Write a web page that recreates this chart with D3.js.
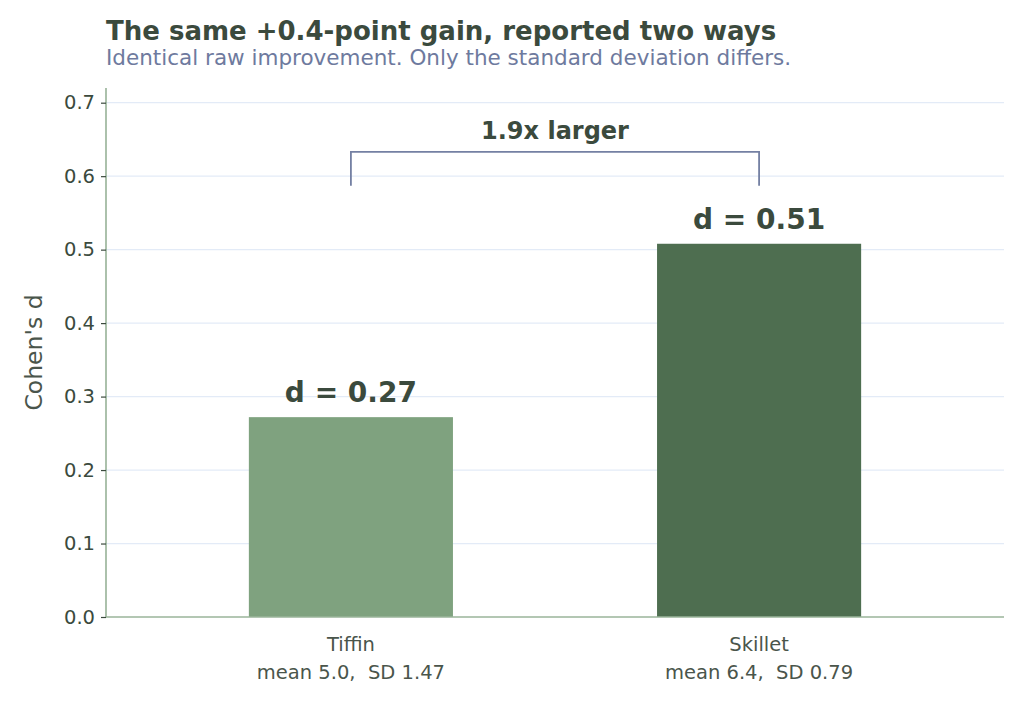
<!DOCTYPE html>
<html>
<head>
<meta charset="utf-8">
<script src="https://cdn.jsdelivr.net/npm/d3@7"></script>
<style>
  body { margin: 0; background: #fff; }
  text { font-family: "DejaVu Sans", sans-serif; white-space: pre; }
</style>
</head>
<body>
<svg id="chart" width="1024" height="728"></svg>
<script>
const categories = ["Tiffin", "Skillet"];
const subLabels = ["mean 5.0,  SD 1.47", "mean 6.4,  SD 0.79"];
const cohensD = [0.272, 0.508];
const barLabels = ["d = 0.27", "d = 0.51"];
const barColors = ["#7fa27f", "#4e6e50"];
const yTicks = [0, 0.1, 0.2, 0.3, 0.4, 0.5, 0.6, 0.7];
const ratioLabel = "1.9x larger";

const svg = d3.select("#chart");
const margin = { top: 88, right: 20, bottom: 111, left: 106 };
const width = 1024 - margin.left - margin.right;
const height = 728 - margin.top - margin.bottom;

const ink = "#3b4a3d";

// positions 0 and 1, xlim -0.6..1.6 like the original
const x = d3.scaleLinear().domain([-0.6, 1.6]).range([0, width]);
const y = d3.scaleLinear().domain([0, 0.72]).range([height, 0]);
const barW = x(0.5) - x(0);

const g = svg.append("g")
  .attr("transform", `translate(${margin.left},${margin.top})`);

// grid
g.selectAll(".grid")
  .data(yTicks.filter(d => d > 0))
  .enter().append("line")
  .attr("x1", 0)
  .attr("x2", width)
  .attr("y1", d => y(d))
  .attr("y2", d => y(d))
  .attr("stroke", "#e3ebf7")
  .attr("stroke-width", 1.2);

// bars
g.selectAll(".bar")
  .data(cohensD)
  .enter().append("rect")
  .attr("x", (d, i) => x(i) - barW / 2)
  .attr("y", d => y(d))
  .attr("width", barW)
  .attr("height", d => y(0) - y(d))
  .attr("fill", (d, i) => barColors[i]);

// value labels
g.selectAll(".val")
  .data(cohensD)
  .enter().append("text")
  .attr("x", (d, i) => x(i))
  .attr("y", d => y(d) - 15)
  .attr("text-anchor", "middle")
  .attr("fill", ink)
  .style("font-size", "28px")
  .style("font-weight", "bold")
  .text((d, i) => barLabels[i]);

// bracket between bars
const bTop = y(0.633), bBot = y(0.587);
g.append("path")
  .attr("d", `M${x(0)},${bBot}V${bTop}H${x(1)}V${bBot}`)
  .attr("fill", "none")
  .attr("stroke", "#7480a3")
  .attr("stroke-width", 1.8);

g.append("text")
  .attr("x", (x(0) + x(1)) / 2)
  .attr("y", bTop - 13)
  .attr("text-anchor", "middle")
  .attr("fill", ink)
  .style("font-size", "24px")
  .style("font-weight", "bold")
  .text(ratioLabel);

// y axis
const yAxis = g.append("g")
  .call(d3.axisLeft(y).tickValues(yTicks).tickFormat(d3.format(".1f")).tickSize(5).tickPadding(6));
yAxis.select(".domain").attr("stroke", "#7fa07f").attr("stroke-width", 1.3).attr("d", `M0,${height}V0`);
yAxis.selectAll(".tick line").attr("stroke", ink).attr("stroke-width", 1.2);
yAxis.selectAll(".tick text")
  .attr("fill", ink)
  .style("font-family", "DejaVu Sans, sans-serif")
  .style("font-size", "19.5px");

// bottom spine
g.append("line")
  .attr("x1", 0)
  .attr("x2", width)
  .attr("y1", y(0))
  .attr("y2", y(0))
  .attr("stroke", "#9ab59a")
  .attr("stroke-width", 1.3);

// x labels
const xl = g.selectAll(".xl")
  .data(categories)
  .enter().append("text")
  .attr("x", (d, i) => x(i))
  .attr("y", height + 34)
  .attr("text-anchor", "middle")
  .attr("fill", "#4a554b")
  .style("font-size", "19.5px");
xl.append("tspan").attr("x", (d, i) => x(i)).text(d => d);
xl.append("tspan").attr("x", (d, i) => x(i)).attr("dy", 28).text((d, i) => subLabels[i]);

// y label
svg.append("text")
  .attr("transform", `translate(42,${margin.top + height / 2}) rotate(-90)`)
  .attr("text-anchor", "middle")
  .attr("fill", "#4a554b")
  .style("font-size", "23.5px")
  .text("Cohen's d");

// title + subtitle
svg.append("text")
  .attr("x", margin.left)
  .attr("y", 40)
  .attr("fill", ink)
  .style("font-size", "26px")
  .style("font-weight", "bold")
  .text("The same +0.4-point gain, reported two ways");

svg.append("text")
  .attr("x", margin.left)
  .attr("y", 65)
  .attr("fill", "#6e7a9e")
  .style("font-size", "21.5px")
  .text("Identical raw improvement. Only the standard deviation differs.");
</script>
</body>
</html>
